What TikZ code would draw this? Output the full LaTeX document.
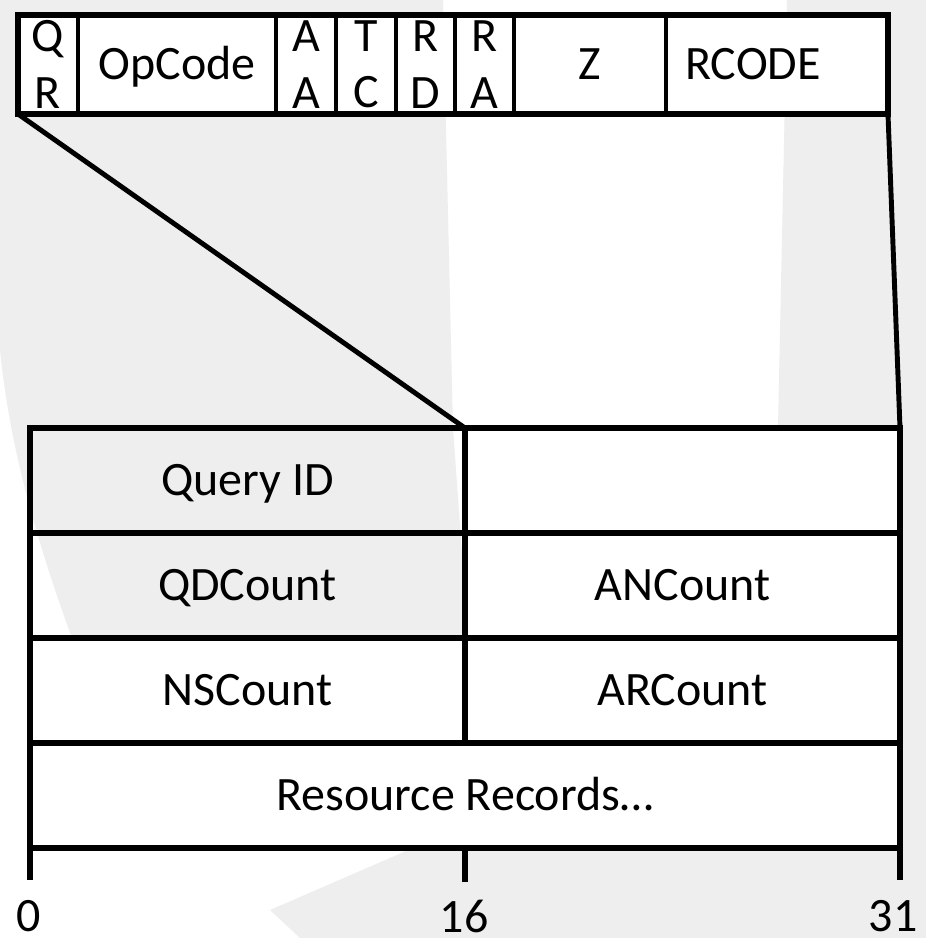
\documentclass[tikz,border=0pt]{standalone}
\usepackage{fontspec}
\setmainfont{Carlito}
\usetikzlibrary{positioning}
\definecolor{wmgrey}{HTML}{EEEEEE}
\tikzset{
  every picture/.style={font=\fontsize{27.3}{32}\selectfont},
  field/.style={draw, fill=white, line width=2.6pt, inner sep=0pt, outer sep=0pt, align=center, minimum height=99*0.02cm, minimum width=#1*0.02cm},
  field/.default=60,
  oneline/.style={text height=21.8pt, text depth=4.2pt},
  cell/.style={draw, fill=white, line width=3.4pt, inner sep=0pt, outer sep=0pt, oneline, minimum height=105*0.02cm, minimum width=#1*0.02cm},
  cell/.default=435,
  bitno/.style={inner sep=0pt},
  rowframe/.style={draw, line width=3.4pt},
  zoomline/.style={line width=2.8pt, line cap=round},
  tick/.style={line width=3.2pt},
}

\begin{document}
\begin{tikzpicture}[x=0.02cm, y=-0.02cm]
  \useasboundingbox (0,0) rectangle (926,938);
  % light watermark behind the header
  \fill[white] (0,0) rectangle (926,938);
  \fill[wmgrey] (0,0) -- (443,0) -- (453,428) -- (468,638) -- (72,638)
    .. controls (38,545) and (10,450) .. (0,350) -- cycle;
  \fill[wmgrey] (787,0) -- (926,0) -- (926,938) -- (300,938) -- (270,910)
    -- (413,848) -- (900,848) -- (900,428) -- (778,428) -- cycle;

  % flags word
  \node[field] (qr) at (48,64.5) {Q\\R};
  \node[field=198, oneline, right=0pt of qr] (opcode) {OpCode};
  \node[field, right=0pt of opcode] (aa) {A\\A};
  \node[field, right=0pt of aa] (tc) {T\\C};
  \node[field=59, right=0pt of tc] (rd) {R\\D};
  \node[field=59, right=0pt of rd] (ra) {R\\A};
  \node[field=152, oneline, right=0pt of ra] (z) {Z};
  \node[field=222, oneline, right=0pt of z] (rcode) {RCODE\quad};
  \draw[rowframe] (qr.north west) rectangle (rcode.south east);

  % header rows
  \node[cell, fill=none] (qid) at (247.5,480.5) {Query ID};
  \node[cell, right=0pt of qid] (flags) {};
  \node[cell, fill=none, below=0pt of qid] (qd) {QDCount};
  \node[cell, right=0pt of qd] (an) {ANCount};
  \node[cell, below=0pt of qd] (ns) {NSCount};
  \node[cell, right=0pt of ns] (ar) {ARCount};
  \node[cell=870, below=0pt of ns.south east] (rr) {Resource Records…};

  % the flags word expands into the second half of the first row
  \draw[zoomline] (qr.south west) -- (qid.north east);
  \draw[zoomline] (rcode.south east) -- (flags.north east);

  % bit positions
  \draw[tick] (rr.south west) -- ++(0,32) coordinate (t0);
  \draw[tick] (rr.south) -- ++(0,34) coordinate (t16);
  \draw[tick] (rr.south east) -- ++(0,32) coordinate (t31);
  \node[bitno] (l0) at (29,916) {0};
  \node[bitno] (l16) at (464,916) {16};
  \node[bitno] (l31) at (893,916) {31};
\end{tikzpicture}
\end{document}
